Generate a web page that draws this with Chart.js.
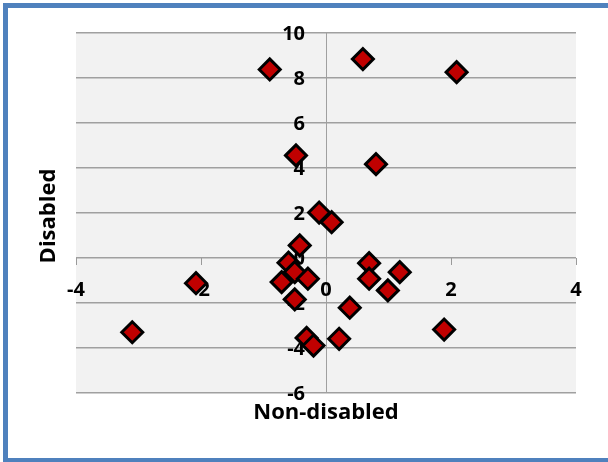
<!DOCTYPE html>
<html>
<head>
<meta charset="utf-8">
<script src="https://cdn.jsdelivr.net/npm/chart.js@4/dist/chart.umd.min.js"></script>
<style>
    html, body { margin: 0; padding: 0; background: #fff; overflow: hidden; }
    #chart { display: block; }
</style>
</head>
<body>
<canvas id="chart" width="608" height="462"></canvas>
<script>
// Non-disabled (x) vs Disabled (y) scores
const nonDisabled = [-3.10, -2.08, -0.90, 0.59, 2.09, -0.48, 0.80, -0.11, 0.09, -0.42, -0.60, -0.50,
    -0.29, -0.71, -0.50, 0.69, 1.18, 0.69, 0.99, 0.38, 1.89, -0.31, -0.20, 0.21];
const disabled = [-3.30, -1.12, 8.38, 8.84, 8.26, 4.56, 4.17, 2.02, 1.59, 0.56, -0.21, -0.63,
    -0.92, -1.07, -1.84, -0.23, -0.63, -0.92, -1.44, -2.21, -3.18, -3.55, -3.89, -3.59];

const xTicks = [-4, -2, 0, 2, 4];
const yTicks = [-6, -4, -2, 0, 2, 4, 6, 8, 10];
const xTitle = 'Non-disabled';
const yTitle = 'Disabled';

const points = nonDisabled.map((x, i) => ({ x: x, y: disabled[i] }));

const FONT = '"Open Sans", sans-serif';

// frame, plot background, crossing-axis labels and titles
const excelAxes = {
    id: 'excelAxes',
    beforeDraw(chart) {
        const { ctx, chartArea, width, height } = chart;
        ctx.save();
        ctx.fillStyle = '#4f81bd';
        ctx.fillRect(3, 3, width - 3, 5);
        ctx.fillRect(3, 3, 5, height - 3);
        ctx.fillRect(3, height - 4, width - 3, 4);
        ctx.fillStyle = '#f2f2f2';
        ctx.fillRect(chartArea.left, chartArea.top, chartArea.right - chartArea.left, chartArea.bottom - chartArea.top);
        ctx.restore();
    },
    beforeDatasetsDraw(chart) {
        const { ctx, scales } = chart;
        const x0 = scales.x.getPixelForValue(0);
        const y0 = scales.y.getPixelForValue(0);
        ctx.save();
        // tick marks below the horizontal axis
        ctx.strokeStyle = '#9a9a9a';
        ctx.lineWidth = 1;
        xTicks.forEach(v => {
            const px = Math.round(scales.x.getPixelForValue(v)) + 0.5;
            ctx.beginPath();
            ctx.moveTo(px, y0);
            ctx.lineTo(px, y0 + 7);
            ctx.stroke();
        });
        ctx.fillStyle = '#000';
        ctx.font = 'bold 20px ' + FONT;
        ctx.textBaseline = 'alphabetic';
        ctx.textAlign = 'center';
        xTicks.forEach(v => {
            ctx.fillText(String(v), scales.x.getPixelForValue(v), y0 + 38);
        });
        ctx.textAlign = 'right';
        yTicks.forEach(v => {
            ctx.fillText(String(v), x0 - 21, scales.y.getPixelForValue(v) + 7);
        });
        ctx.restore();
    },
    afterDraw(chart) {
        const { ctx, chartArea } = chart;
        ctx.save();
        ctx.fillStyle = '#000';
        ctx.font = 'bold 22px ' + FONT;
        ctx.textAlign = 'center';
        ctx.textBaseline = 'alphabetic';
        ctx.fillText(xTitle, (chartArea.left + chartArea.right) / 2, 419);
        ctx.translate(55, 216);
        ctx.rotate(-Math.PI / 2);
        ctx.fillText(yTitle, 0, 0);
        ctx.restore();
    }
};

new Chart(document.getElementById('chart'), {
    type: 'scatter',
    data: {
        datasets: [{
            data: points,
            pointStyle: 'rectRot',
            pointRadius: 10.5,
            pointHoverRadius: 10.5,
            pointBackgroundColor: '#c00000',
            pointBorderColor: '#000',
            pointBorderWidth: 3
        }]
    },
    options: {
        responsive: false,
        animation: false,
        devicePixelRatio: 1,
        layout: { padding: { left: 76, top: 33, right: 32, bottom: 69 } },
        plugins: { legend: { display: false }, tooltip: { enabled: false } },
        scales: {
            x: {
                type: 'linear',
                min: -4,
                max: 4,
                ticks: { stepSize: 2, display: false },
                border: { display: false },
                grid: {
                    drawTicks: false,
                    lineWidth: 1,
                    color: c => (c.tick && c.tick.value === 0 ? '#a0a0a0' : 'rgba(0,0,0,0)')
                }
            },
            y: {
                type: 'linear',
                min: -6,
                max: 10,
                ticks: { stepSize: 2, display: false },
                border: { display: false },
                grid: { drawTicks: false, lineWidth: 1.5, color: '#a0a0a0' }
            }
        }
    },
    plugins: [excelAxes]
});
</script>
</body>
</html>
